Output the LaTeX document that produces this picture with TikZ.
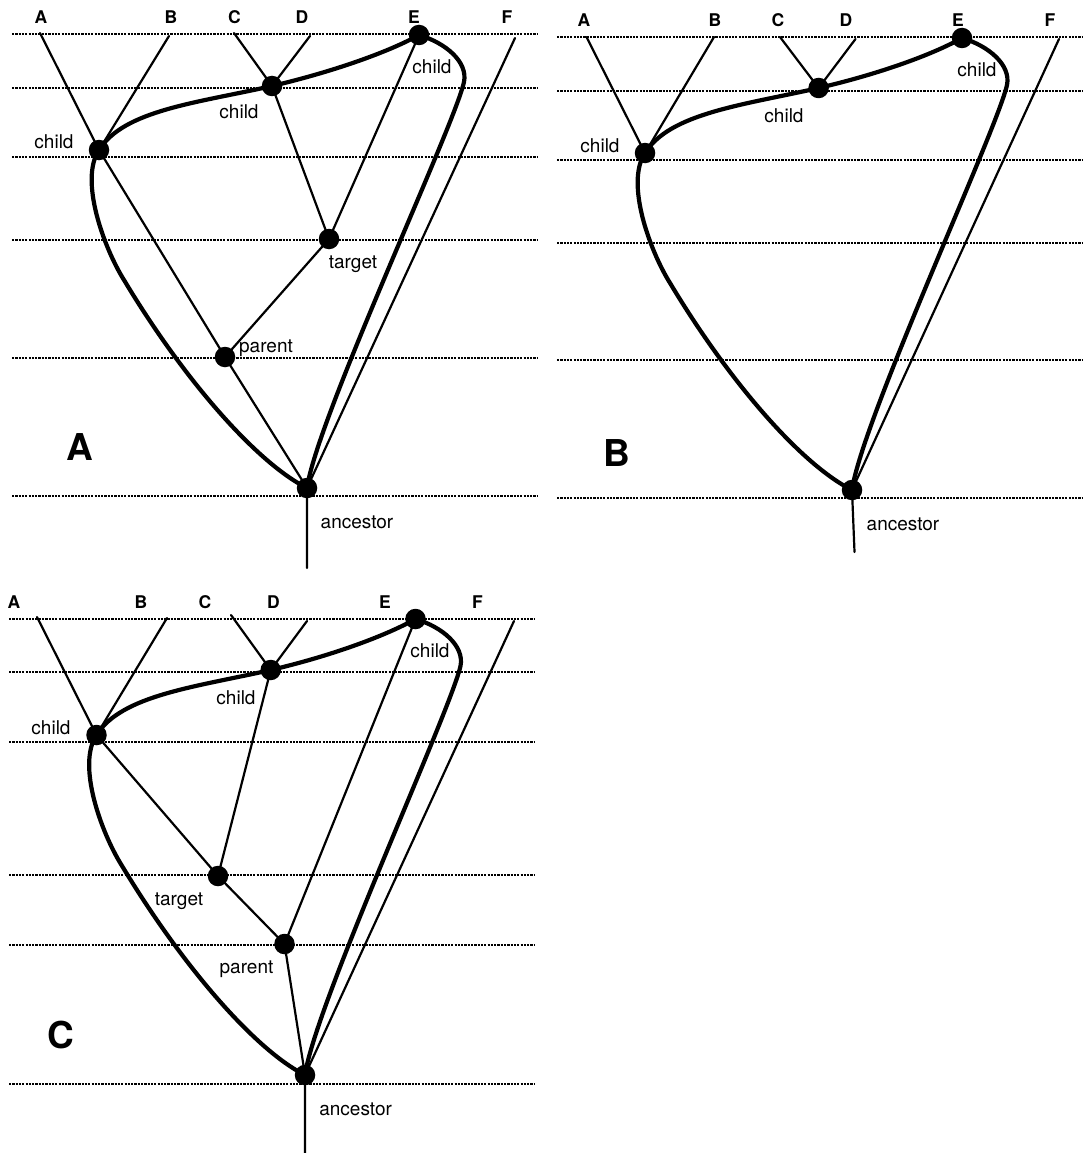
\documentclass[tikz,border=0pt]{standalone}
\usepackage{fontspec}
\setmainfont{TeX Gyre Heros}
\usetikzlibrary{calc}
\newcommand\drawloop[1]{%
  \coordinate (#1R) at ($(#1chE)+(45,47)$);
  \coordinate (#1M) at ($(#1chAB)+(25,130)$);
  \draw[loopline] (#1chAB)
    .. controls ($(#1chAB)+(25,-40)$) and ($(#1chCD)+(-75,17)$) .. (#1chCD)
    .. controls ($(#1chCD)+(56,-13)$) and ($(#1chE)+(-32,18)$) .. (#1chE)
    .. controls ($(#1chE)+(27,8)$) and ($(#1R)+(4,-20)$) .. (#1R)
    .. controls ($(#1R)+(-10,45)$) and ($(#1anc)+(10,-70)$) .. (#1anc)
    .. controls ($(#1anc)+(-50,-25)$) and ($(#1M)+(60,100)$) .. (#1M)
    .. controls ($(#1M)+(-20,-32)$) and ($(#1chAB)+(-20,30)$) .. (#1chAB);}
\begin{document}
\begin{tikzpicture}[x=1pt,y=-1pt,
  branch/.style={line width=2.2pt, line cap=round, line join=round},
  loopline/.style={line width=4.2pt, line cap=round, line join=round},
  grid/.style={line width=1.8pt, dash pattern=on 2.2pt off 1.1pt},
  dot/.style={circle, fill=black, inner sep=0pt, minimum size=20.5pt},
  lbl/.style={anchor=base, inner sep=0pt, font=\fontsize{19}{19}\selectfont},
  leaflbl/.style={anchor=base, inner sep=0pt, font=\fontsize{17.5}{17.5}\selectfont\bfseries},
  panellbl/.style={anchor=base, inner sep=0pt, font=\fontsize{37}{37}\selectfont\bfseries},
]
\useasboundingbox (0,0) rectangle (1082,1153);
\fill[white] (0,0) rectangle (1082,1153);

% ---------------- Panel A ----------------
\foreach \y in {34,88,157,240,358,496} \draw[grid] (12,\y) -- (538,\y);
\coordinate (aLA) at (40,33);
\coordinate (aLB) at (169,36);
\coordinate (aLC) at (234,33);
\coordinate (aLD) at (310,36);
\coordinate (aLF) at (515,38);
\coordinate (achE) at (419,35);
\coordinate (achCD) at (272,86);
\coordinate (achAB) at (99,150);
\coordinate (atgt) at (329,239);
\coordinate (apar) at (225,357);
\coordinate (aanc) at (307,488);
\coordinate (aroot) at (307,568);
\draw[branch] (aLA) -- (achAB) -- (apar) -- (aanc) -- (aroot);
\draw[branch] (aLB) -- (achAB);
\draw[branch] (aLC) -- (achCD) -- (atgt) -- (apar);
\draw[branch] (aLD) -- (achCD);
\draw[branch] (achE) -- (atgt);
\draw[branch] (aLF) -- (aanc);
\drawloop{a}
\foreach \n in {achE,achCD,achAB,atgt,apar,aanc} \node[dot] (\n dot) at (\n) {};
\node[leaflbl] (atA) at (41,24) {A};
\node[leaflbl] (atB) at (171,24) {B};
\node[leaflbl] (atC) at (234.5,24) {C};
\node[leaflbl] (atD) at (302,24) {D};
\node[leaflbl] (atE) at (414,24) {E};
\node[leaflbl] (atF) at (507,24) {F};
\node[lbl] (alE) at (432,74) {child};
\node[lbl] (alCD) at (239,119) {child};
\node[lbl] (alAB) at (54,149) {child};
\node[lbl] (altgt) at (353,268) {target};
\node[lbl] (alpar) at (266,352) {parent};
\node[lbl] (alanc) at (357,528) {ancestor};
\node[panellbl] (apanel) at (80,460) {A};

% ---------------- Panel B ----------------
\foreach \y in {37,91,160,243,360,498} \draw[grid] (557,\y) -- (1082,\y);
\coordinate (bLA) at (586.5,37);
\coordinate (bLB) at (714,37);
\coordinate (bLC) at (780,37);
\coordinate (bLD) at (855.5,39);
\coordinate (bLF) at (1059,39);
\coordinate (bchE) at (962,38);
\coordinate (bchCD) at (818.6,88);
\coordinate (bchAB) at (645,153);
\coordinate (banc) at (852,490);
\coordinate (broot) at (854.5,552);
\draw[branch] (bLA) -- (bchAB);
\draw[branch] (bLB) -- (bchAB);
\draw[branch] (bLC) -- (bchCD);
\draw[branch] (bLD) -- (bchCD);
\draw[branch] (bLF) -- (banc) -- (broot);
\drawloop{b}
\foreach \n in {bchE,bchCD,bchAB,banc} \node[dot] (\n dot) at (\n) {};
\node[leaflbl] (btA) at (584,27) {A};
\node[leaflbl] (btB) at (715,27) {B};
\node[leaflbl] (btC) at (778,27) {C};
\node[leaflbl] (btD) at (846,27) {D};
\node[leaflbl] (btE) at (958,27) {E};
\node[leaflbl] (btF) at (1050,27) {F};
\node[lbl] (blE) at (977,77) {child};
\node[lbl] (blCD) at (784,122) {child};
\node[lbl] (blAB) at (600,152) {child};
\node[lbl] (blanc) at (903,530) {ancestor};
\node[panellbl] (bpanel) at (617,466) {B};

% ---------------- Panel C ----------------
\foreach \y in {619,672,742,875,945,1084} \draw[grid] (9,\y) -- (535,\y);
\coordinate (cLA) at (37,617);
\coordinate (cLB) at (167,618);
\coordinate (cLC) at (231,615);
\coordinate (cLD) at (307,621);
\coordinate (cLF) at (514,621);
\coordinate (cchE) at (415.5,619);
\coordinate (cchCD) at (270.7,670);
\coordinate (cchAB) at (96.5,735);
\coordinate (ctgt) at (218,876);
\coordinate (cpar) at (284.5,944);
\coordinate (canc) at (305,1075);
\coordinate (croot) at (305,1153);
\draw[branch] (cLA) -- (cchAB) -- (ctgt) -- (cpar) -- (canc) -- (croot);
\draw[branch] (cLB) -- (cchAB);
\draw[branch] (cLC) -- (cchCD) -- (ctgt);
\draw[branch] (cLD) -- (cchCD);
\draw[branch] (cchE) -- (cpar);
\draw[branch] (cLF) -- (canc);
\drawloop{c}
\foreach \n in {cchE,cchCD,cchAB,ctgt,cpar,canc} \node[dot] (\n dot) at (\n) {};
\node[leaflbl] (ctA) at (14,608) {A};
\node[leaflbl] (ctB) at (141,608) {B};
\node[leaflbl] (ctC) at (205,608) {C};
\node[leaflbl] (ctD) at (273.5,608) {D};
\node[leaflbl] (ctE) at (385,608) {E};
\node[leaflbl] (ctF) at (477.5,608) {F};
\node[lbl] (clE) at (430,657) {child};
\node[lbl] (clCD) at (236,704) {child};
\node[lbl] (clAB) at (51,734) {child};
\node[lbl] (cltgt) at (179,905) {target};
\node[lbl] (clpar) at (246.5,973) {parent};
\node[lbl] (clanc) at (355.6,1115) {ancestor};
\node[panellbl] (cpanel) at (61,1048) {C};
\end{tikzpicture}
\end{document}
